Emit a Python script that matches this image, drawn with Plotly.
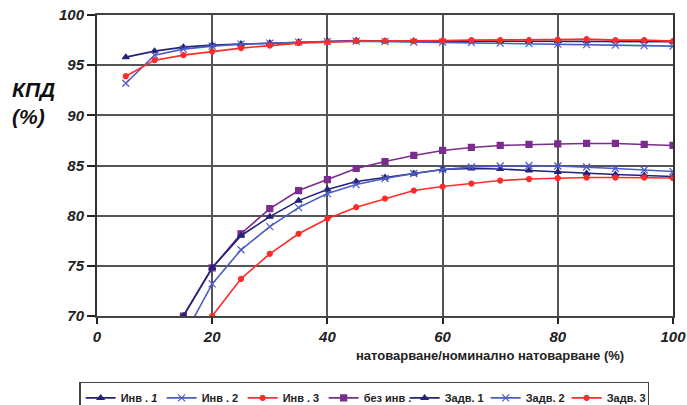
import plotly.graph_objects as go

x_top = [5, 10, 15, 20, 25, 30, 35, 40, 45, 50, 55, 60, 65, 70, 75, 80, 85, 90, 95, 100]
inv1 = [95.8, 96.4, 96.8, 97.0, 97.1, 97.2, 97.3, 97.4, 97.45, 97.4, 97.4, 97.4, 97.4, 97.4, 97.4, 97.4, 97.4, 97.4, 97.4, 97.35]
inv2 = [93.2, 96.0, 96.6, 96.9, 97.1, 97.2, 97.3, 97.35, 97.4, 97.35, 97.3, 97.3, 97.25, 97.2, 97.15, 97.1, 97.05, 97.0, 96.95, 96.9]
inv3 = [93.9, 95.5, 96.0, 96.35, 96.7, 96.95, 97.2, 97.3, 97.4, 97.4, 97.4, 97.45, 97.5, 97.5, 97.5, 97.55, 97.6, 97.5, 97.5, 97.4]

x_low = [15, 20, 25, 30, 35, 40, 45, 50, 55, 60, 65, 70, 75, 80, 85, 90, 95, 100]
bez_inv = [70.0, 74.8, 78.2, 80.7, 82.5, 83.6, 84.7, 85.4, 86.0, 86.5, 86.8, 87.0, 87.1, 87.15, 87.2, 87.2, 87.1, 87.0]
zadv1 = [70.0, 74.8, 78.0, 79.9, 81.5, 82.6, 83.4, 83.8, 84.2, 84.6, 84.7, 84.65, 84.5, 84.35, 84.2, 84.1, 84.0, 83.9]
zadv2 = [67.9, 73.2, 76.6, 78.9, 80.8, 82.2, 83.1, 83.7, 84.2, 84.6, 84.85, 84.95, 85.0, 84.95, 84.85, 84.7, 84.55, 84.4]
zadv3 = [65.0, 70.0, 73.7, 76.2, 78.2, 79.7, 80.85, 81.7, 82.5, 82.9, 83.2, 83.5, 83.65, 83.75, 83.8, 83.8, 83.8, 83.75]

names = ["Инв . <i>1</i>", "Инв . 2", "Инв . 3", "без инв .", "Задв. 1", "Задв. 2", "Задв. 3"]

NAVY = "#23237a"
BLUE = "#4d5cc4"
RED = "#ff2b2b"
PURPLE = "#7b2c8c"

FONT = "Liberation Sans, Arial, sans-serif"

fig = go.Figure()

def add(x, y, name, color, symbol, size):
    fig.add_trace(go.Scatter(
        x=x, y=y, name=name, mode="lines+markers",
        line=dict(color=color, width=1.6),
        marker=dict(color=color, symbol=symbol, size=size,
                    line=dict(color=color, width=1.2)),
    ))

add(x_top, inv1, names[0], NAVY, "triangle-up", 6)
add(x_top, inv2, names[1], BLUE, "x-thin-open", 7)
add(x_top, inv3, names[2], RED, "circle", 5)
add(x_low, bez_inv, names[3], PURPLE, "square", 6)
add(x_low, zadv1, names[4], NAVY, "triangle-up", 6)
add(x_low, zadv2, names[5], BLUE, "x-thin-open", 7)
add(x_low, zadv3, names[6], RED, "circle", 5)

tickfont = dict(family=FONT, size=15, color="#222222", weight="bold", style="italic")

fig.update_layout(
    width=687, height=405,
    margin=dict(l=97, r=14, t=15, b=89, autoexpand=False),
    paper_bgcolor="white", plot_bgcolor="white",
    font=dict(family=FONT, color="#222222"),
    showlegend=True,
    legend=dict(
        orientation="h", x=-0.031, xanchor="left", y=-0.219, yanchor="top",
        bordercolor="#444444", borderwidth=1.5, bgcolor="white",
        font=dict(size=11, weight="bold", family=FONT),
        itemwidth=30, tracegroupgap=0,
        entrywidth=36, entrywidthmode="pixels",
    ),
    xaxis=dict(
        range=[0, 100], dtick=20, tick0=0,
        showgrid=True, gridcolor="#555555", gridwidth=2,
        showline=True, linecolor="#444444", linewidth=2, mirror=True,
        ticks="outside", ticklen=6, tickcolor="#222222", tickwidth=1.5,
        tickfont=tickfont, zeroline=False, ticklabeloverflow="allow",
    ),
    yaxis=dict(
        range=[70, 100], dtick=5, tick0=70,
        showgrid=True, gridcolor="#555555", gridwidth=1.5,
        showline=True, linecolor="#333333", linewidth=2, mirror=True,
        ticks="outside", ticklen=8, tickcolor="#222222", tickwidth=1.5,
        tickfont=tickfont, zeroline=False, ticklabeloverflow="allow",
    ),
    annotations=[
        dict(text="КПД<br>(%)", xref="paper", yref="paper",
             x=-0.151, y=0.708, xanchor="left", yanchor="middle",
             showarrow=False, align="left",
             font=dict(size=21, weight="bold", style="italic", color="#111111",
                       family=FONT)),
        dict(text="натоварване/номинално натоварване (%)", xref="paper", yref="paper",
             x=0.682, y=-0.13, xanchor="center", yanchor="middle", showarrow=False,
             font=dict(size=13, weight="bold", color="#222222", family=FONT)),
    ],
)

fig.write_html("out.html", config={"displayModeBar": False},
               post_script="document.body.style.margin='0px';document.body.style.overflow='hidden';")
